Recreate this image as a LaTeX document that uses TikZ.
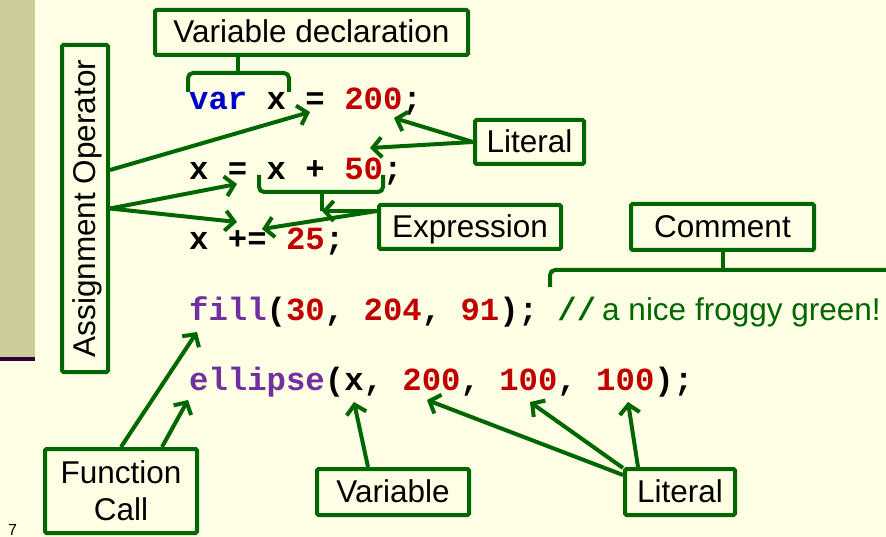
\documentclass[tikz,border=0pt]{standalone}
\usepackage{fontspec}
\setmainfont{Liberation Sans}
\setmonofont{Liberation Mono}
\usetikzlibrary{arrows.meta, positioning, calc}
\definecolor{slidebg}{HTML}{FFFFE5}
\definecolor{stripolive}{HTML}{CCCC99}
\definecolor{stripplum}{HTML}{330033}
\definecolor{tagGreen}{HTML}{006600}
\definecolor{kwBlue}{HTML}{0000CC}
\definecolor{numRed}{HTML}{C00000}
\definecolor{fnPurple}{HTML}{7030A0}
\newcommand{\kwd}[1]{\textcolor{kwBlue}{#1}}
\newcommand{\litv}[1]{\textcolor{numRed}{#1}}
\newcommand{\fnc}[1]{\textcolor{fnPurple}{#1}}
\tikzset{
    tagbox/.style={draw=tagGreen, line width=4pt, fill=slidebg, rounded corners=1.5pt, inner sep=0pt, text=black, font=\fontsize{31.5}{37}\selectfont},
    tagone/.style={tagbox, text height=23pt, text depth=2pt},
    codeline/.style={anchor=base west, inner sep=0pt, font=\fontsize{32.3}{38}\selectfont\ttfamily\bfseries},
    tagarrow/.style={-{Straight Barb[length=9pt,width=20pt]}, line width=4pt, draw=tagGreen},
    tagbrace/.style={line width=4pt, draw=tagGreen, rounded corners=5pt}
}

\begin{document}
\begin{tikzpicture}[x=1pt, y=-1pt]
    \useasboundingbox (0,0) rectangle (886,537);
    \fill[slidebg] (0,0) rectangle (886,537);
    \fill[stripolive] (0,0) rectangle (35,357);
    \fill[stripplum] (0,357) rectangle (35,361);
    \node[anchor=base west, inner sep=0pt, font=\fontsize{16}{18}\selectfont] (pgno) at (8,535) {7};

    % Code lines
    \node[codeline] (c1) at (189,110) {\kwd{var} x = \litv{200};};
    \node[codeline] (c2) at (189,180) {x = x + \litv{50};};
    \node[codeline] (c3) at (189,250) {x += \litv{25};};
    \node[codeline] (c4) at (189,320) {\fnc{fill}(\litv{30}, \litv{204}, \litv{91}); \textcolor{tagGreen}{//}{\rmfamily\mdseries\fontsize{31.5}{37}\selectfont\color{tagGreen}\hspace{6pt}a nice froggy green!}};
    \node[codeline] (c5) at (189,390) {\fnc{ellipse}(x, \litv{200}, \litv{100}, \litv{100});};

    % Label boxes
    \node[tagone, minimum width=313pt, minimum height=45pt] (decl) at (311.5,32.5) {Variable declaration};
    \node[tagone, rotate=90, minimum width=327pt, minimum height=46pt] (asg) at (85,208.5) {Assignment Operator};
    \node[tagone, minimum width=109pt, minimum height=44pt] (litA) at (529.5,142) {Literal};
    \node[tagone, minimum width=182pt, minimum height=44pt] (expr) at (470,227) {Expression};
    \node[tagone, minimum width=183pt, minimum height=46pt] (cmt) at (722.5,227) {Comment};
    \node[tagbox, align=center, minimum width=152pt, minimum height=84pt] (fcall) at (121,491) {Function\\Call};
    \node[tagone, minimum width=152pt, minimum height=46pt] (vbl) at (393,492) {Variable};
    \node[tagone, minimum width=110pt, minimum height=46pt] (litB) at (680,492) {Literal};

    % Arrow targets in the code
    \coordinate (eq1) at (310,112);
    \coordinate (eq2) at (237,184);
    \coordinate (eq3) at (237,222);
    \coordinate (n200) at (394,118);
    \coordinate (n50) at (370,148);
    \coordinate (exM) at (322,192);
    \coordinate (exTip) at (322,211);
    \coordinate (n25) at (262,229);
    \coordinate (fillTip) at (197,332);
    \coordinate (ellTip) at (188,400);
    \coordinate (xTip) at (354,402);
    \coordinate (e200) at (427,400);
    \coordinate (e100a) at (530,402);
    \coordinate (e100b) at (628,402);

    % Braces
    \coordinate (declL) at (188,92);
    \coordinate (declR) at (289,92);
    \draw[tagbrace] (declL) -- ++(0,-19) -| (declR);
    \draw[tagbrace] ([xshift=-73.5pt]decl.south) -- ++(0,16);
    \coordinate (exL) at (259,175);
    \coordinate (exR) at (383,175);
    \draw[tagbrace] (exL) -- ++(0,17) -| (exR);
    \draw[tagbrace] (exM) -- (exTip);
    \coordinate (cmL) at (550,287);
    \coordinate (cmR) at (900,270);
    \draw[tagbrace] (cmL) |- (cmR);
    \draw[tagbrace] (cmt.south) -- ++(0,18);

    % Assignment operators
    \draw[tagarrow] ([yshift=38.5pt]asg.south) -- (eq1);
    \draw[tagarrow] (asg.south) -- (eq2);
    \draw[tagarrow] (asg.south) -- (eq3);

    % Literals and expressions
    \draw[tagarrow] (litA.west) -- (n200);
    \draw[tagarrow] (litA.west) -- (n50);
    \draw[tagarrow] ([yshift=16pt]expr.west) -- (exTip);
    \draw[tagarrow] ([yshift=16pt]expr.west) -- (n25);

    % Function calls and arguments
    \draw[tagarrow] (fcall.north) -- (fillTip);
    \draw[tagarrow] ([xshift=41pt]fcall.north) -- (ellTip);
    \draw[tagarrow] ([xshift=-25pt]vbl.north) -- (xTip);
    \draw[tagarrow] ([yshift=-8pt]litB.north west) -- (e200);
    \draw[tagarrow] ([yshift=-1pt]litB.north west) -- (e100a);
    \draw[tagarrow] ([xshift=15pt]litB.north west) -- (e100b);
\end{tikzpicture}
\end{document}
